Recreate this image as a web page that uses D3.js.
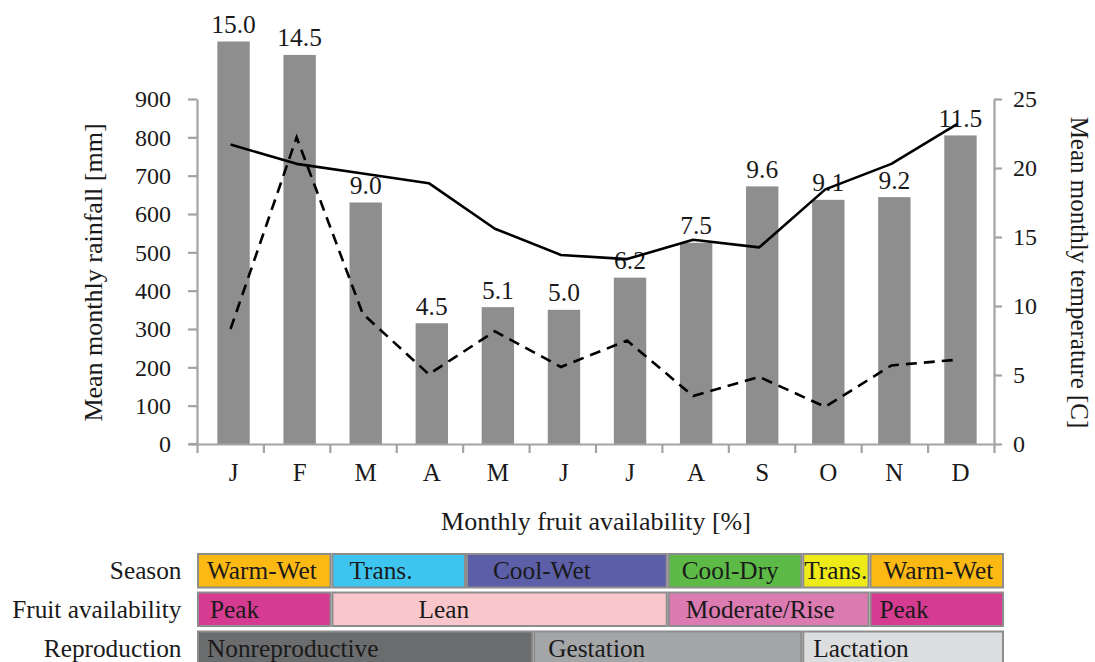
<!DOCTYPE html>
<html><head><meta charset="utf-8">
<script src="https://cdn.jsdelivr.net/npm/d3@7"></script>
<style>body{margin:0;background:#fff}svg{display:block}text{font-family:"Liberation Serif","Times New Roman",serif;fill:#1a1a1a}</style>
</head><body>
<svg id="c" width="1095" height="662"></svg>
<script>
const months = ["J","F","M","A","M","J","J","A","S","O","N","D"];
const fruit = [15.0,14.5,9.0,4.5,5.1,5.0,6.2,7.5,9.6,9.1,9.2,11.5];
const fruitLabels = ["15.0","14.5","9.0","4.5","5.1","5.0","6.2","7.5","9.6","9.1","9.2","11.5"];
const rainfall = [300,800,340,182,294,201,270,125,175,97,205,220];
const temperature = [21.7,20.3,19.6,18.9,15.6,13.7,13.4,14.8,14.25,18.45,20.3,23.2];
const rainTicks = [0,100,200,300,400,500,600,700,800,900];
const tempTicks = [0,5,10,15,20,25];
const seasonLabels = ["Warm-Wet","Trans.","Cool-Wet","Cool-Dry","Trans.","Warm-Wet"];
const seasonStart = [0,2,4,7,9,10];
const seasonEnd = [2,4,7,9,10,12];
const fruitPhaseLabels = ["Peak","Lean","Moderate/Rise","Peak"];
const fruitPhaseStart = [0,2,7,10];
const fruitPhaseEnd = [2,7,10,12];
const reproLabels = ["Nonreproductive","Gestation","Lactation"];
const reproStart = [0,5,9];
const reproEnd = [5,9,12];
const rowLabels = ["Season","Fruit availability","Reproduction"];

// styles
const seasonColors = ["#fdb913","#3ec5ef","#5c5fa8","#5dba47","#eeea18","#fdb913"];
const fruitColors = ["#d53b91","#f9c6cc","#dc7bb1","#d53b91"];
const reproColors = ["#6b6c6e","#a5a6a8","#dcdddf"];
const seasonInset = [10,18,27,14,2,14];
const fruitInset = [13,87,18,10];
const reproInset = [10,15,11];

const svg = d3.select("#c");
const axisGray = "#a3a3a3";
const pL = 197, pR = 994, pT = 99, pB = 444;
const fsTick = 24, fsMonth = 25, fsTitle = 26, fsBand = 25.3, fsBar = 25.5;

const x = d3.scaleBand().domain(d3.range(12)).range([200.5, 993.5]).paddingInner(0.51).paddingOuter(0.255);
const xc = i => x(i) + x.bandwidth()/2;
const yR = d3.scaleLinear().domain([0,900]).range([pB, pT]);
const yT = d3.scaleLinear().domain([0,25]).range([pB, pT]);
const yF = d3.scaleLinear().domain([0,900/70]).range([pB, pT]);

// bars
svg.append("g").selectAll("rect").data(fruit).join("rect")
  .attr("x",(d,i)=>x(i)).attr("width",x.bandwidth())
  .attr("y",d=>yF(d)).attr("height",d=>pB-yF(d))
  .attr("fill","#8e8e8e");
svg.append("g").selectAll("text").data(fruitLabels).join("text")
  .attr("x",(d,i)=>xc(i)).attr("y",(d,i)=>yF(fruit[i])-8.5)
  .attr("text-anchor","middle").attr("font-size",fsBar).text(d=>d);

// axes
function styleAxis(g){
  g.select(".domain").attr("stroke",axisGray).attr("stroke-width",2.2);
  g.selectAll(".tick line").attr("stroke",axisGray).attr("stroke-width",2.2);
  g.selectAll(".tick text").attr("font-size",fsTick).attr("fill","#1a1a1a").attr("font-family",'"Liberation Serif",serif');
}
const gl = svg.append("g").attr("transform",`translate(${pL},0)`)
  .call(d3.axisLeft(yR).tickValues(rainTicks).tickSize(9).tickPadding(17).tickSizeOuter(0));
styleAxis(gl);
const gr = svg.append("g").attr("transform",`translate(${pR},0)`)
  .call(d3.axisRight(yT).tickValues(tempTicks).tickSize(8).tickPadding(11).tickSizeOuter(0));
styleAxis(gr);
const xb = d3.scaleLinear().domain([0,12]).range([pL, pR]);
const gb = svg.append("g").attr("transform",`translate(0,${pB})`)
  .call(d3.axisBottom(xb).tickValues(d3.range(13)).tickSize(9).tickFormat("").tickSizeOuter(0));
styleAxis(gb);
svg.append("line").attr("x1",189).attr("x2",pL).attr("y1",pB).attr("y2",pB)
  .attr("stroke",axisGray).attr("stroke-width",2.2);
svg.append("g").selectAll("text").data(months).join("text")
  .attr("x",(d,i)=>xc(i)).attr("y",481).attr("text-anchor","middle").attr("font-size",fsMonth).text(d=>d);

// lines
const line = (ys,arr) => d3.line().x((d,i)=>xc(i)-3).y(d=>ys(d))(arr);
svg.append("path").attr("d",line(yT,temperature)).attr("fill","none")
  .attr("stroke","#000").attr("stroke-width",2.6).attr("stroke-linejoin","round");
svg.append("path").attr("d",line(yR,rainfall)).attr("fill","none")
  .attr("stroke","#000").attr("stroke-width",2.6).attr("stroke-dasharray","11,7");

// titles
svg.append("text").attr("transform","translate(102,272.5) rotate(-90)").attr("text-anchor","middle")
  .attr("font-size",fsTitle).text("Mean monthly rainfall [mm]");
svg.append("text").attr("transform","translate(1071,272.5) rotate(90)").attr("text-anchor","middle")
  .attr("font-size",25).text("Mean monthly temperature [C]");
svg.append("text").attr("x",596).attr("y",530).attr("text-anchor","middle")
  .attr("font-size",fsTitle).text("Monthly fruit availability [%]");

// bands
const bx = d3.scaleLinear().domain([0,12]).range([197, 1004]);
const rows = [
  {labels:seasonLabels,s:seasonStart,e:seasonEnd,c:seasonColors,p:seasonInset,y0:553,y1:588.5},
  {labels:fruitPhaseLabels,s:fruitPhaseStart,e:fruitPhaseEnd,c:fruitColors,p:fruitInset,y0:591.5,y1:627},
  {labels:reproLabels,s:reproStart,e:reproEnd,c:reproColors,p:reproInset,y0:630.5,y1:666}
];
rows.forEach((r,ri)=>{
  const g = svg.append("g");
  r.labels.forEach((lab,i)=>{
    const x0 = bx(r.s[i]), x1 = bx(r.e[i]);
    g.append("rect").attr("x",x0+1).attr("y",r.y0+1).attr("width",x1-x0-2).attr("height",r.y1-r.y0-2)
      .attr("fill",r.c[i]).attr("stroke","#8d8d8d").attr("stroke-width",2);
    g.append("text").attr("x",x0+r.p[i]).attr("y",(r.y0+r.y1)/2+8.5).attr("text-anchor","start")
      .attr("font-size",fsBand).text(lab);
  });
  svg.append("text").attr("x",181.5).attr("y",(r.y0+r.y1)/2+8.5).attr("text-anchor","end")
    .attr("font-size",fsBand).text(rowLabels[ri]);
});
</script>
</body></html>
